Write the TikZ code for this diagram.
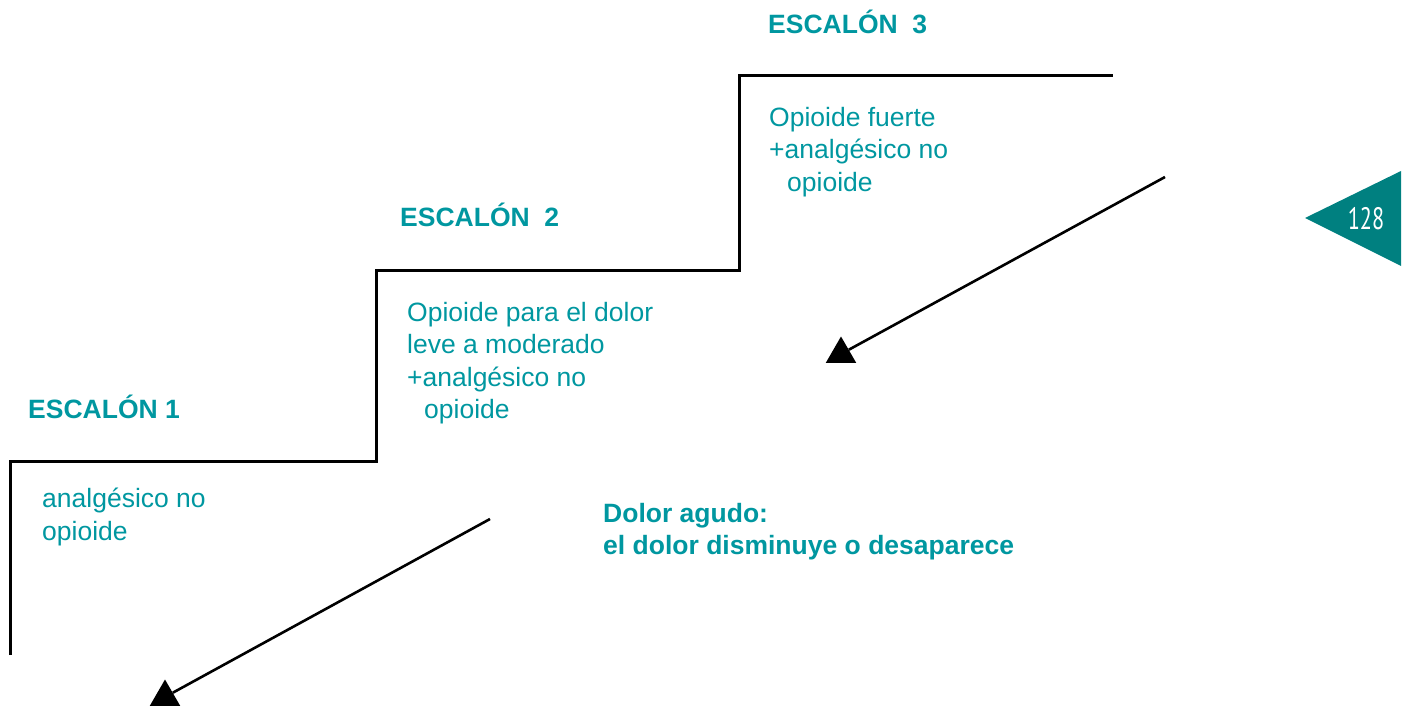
\documentclass[tikz,border=0pt]{standalone}
\usepackage{graphicx}
\usepackage{fontspec}
\setmainfont{Liberation Sans}
\newfontfamily\pagefont{PT Sans}
\usetikzlibrary{shapes.geometric}
\definecolor{tealtext}{RGB}{0,151,160}
\definecolor{tealmark}{RGB}{0,128,128}

\begin{document}
\begin{tikzpicture}[x=1pt,y=1pt,yscale=-1,xscale=1,
  steptext/.style={anchor=north west,inner sep=0pt,align=left,text=tealtext,font=\fontsize{26.5}{32.3}\selectfont},
  steptitle/.style={anchor=base west,inner sep=0pt,text=tealtext,font=\fontsize{26.5}{32.3}\selectfont\bfseries},
  stairline/.style={line width=3pt,line join=miter},
  arrowline/.style={line width=2.6pt},
  arrowhead/.style={regular polygon,regular polygon sides=3,minimum size=35pt,fill=black,inner sep=0pt}
]
\useasboundingbox (0,0) rectangle (1406,706);
\clip (0,0) rectangle (1406,706);

%Shape: Stairs
\draw [stairline] (10,655) -- (10,461) -- (376,461) -- (376,270) -- (739,270) -- (739,76) -- (1113,76);

%Shape: Page tab
\fill [tealmark] (1305,218) -- (1401,171) -- (1401,266) -- cycle;
\node (pagenum) at (1366,219) [inner sep=0pt,text=white,font=\pagefont\fontsize{31}{31}\selectfont] {\scalebox{0.72}[1]{128}};

% Title Nodes
\node (title3) at (768,34) [steptitle] {ESCAL\'ON\ \ 3};
\node (title2) at (400,226) [steptitle] {ESCAL\'ON\ \ 2};
\node (title1) at (28,418) [steptitle] {ESCAL\'ON 1};

% Text Nodes
\node (drug3) at (769,107) [steptext] {Opioide fuerte\\+analg\'esico no\\\hspace*{18pt}opioide};
\node (drug2) at (407,302) [steptext] {Opioide para el dolor\\leve a moderado\\+analg\'esico no\\\hspace*{17pt}opioide};
\node (drug1) at (42,488) [steptext] {analg\'esico no\\opioide};
\node (acute) at (603,503) [steptext,font=\fontsize{26.5}{32.3}\selectfont\bfseries] {Dolor agudo:\\el dolor disminuye o desaparece};

% Arrows
\coordinate (tail3) at (1165,177);
\node (head3) at (841,354) [arrowhead] {};
\draw [arrowline] (tail3) -- (head3);

\coordinate (tail2) at (490,519);
\node (head2) at (165,697) [arrowhead] {};
\draw [arrowline] (tail2) -- (head2);

\end{tikzpicture}
\end{document}
